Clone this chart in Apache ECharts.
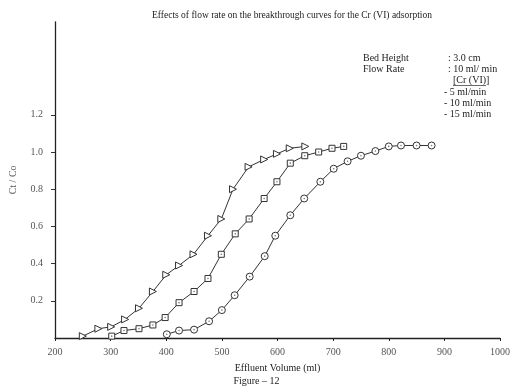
<!DOCTYPE html>
<html>
<head>
<meta charset="utf-8">
<script src="https://cdn.jsdelivr.net/npm/echarts@6/dist/echarts.min.js"></script>
<style>html,body{margin:0;padding:0;background:#fff}#c{width:513px;height:388px}</style>
</head>
<body>
<div id="c"></div>
<script>
// Data (Effluent Volume in ml, Ct/Co)
var vol15 = [250, 278, 301, 326, 351, 376, 400, 423, 449, 475, 499, 520, 548, 576, 599, 622, 650];
var ct15  = [0.01, 0.05, 0.06, 0.10, 0.16, 0.25, 0.34, 0.39, 0.45, 0.55, 0.64, 0.80, 0.92, 0.96, 0.99, 1.02, 1.03];
var vol10 = [302, 324, 351, 376, 398, 423, 450, 475, 499, 524, 549, 576, 599, 623, 649, 674, 698, 719];
var ct10  = [0.01, 0.04, 0.05, 0.07, 0.11, 0.19, 0.25, 0.32, 0.45, 0.56, 0.64, 0.75, 0.84, 0.94, 0.98, 1.00, 1.02, 1.03];
var vol5  = [401, 423, 450, 477, 500, 523, 550, 577, 596, 623, 648, 677, 701, 726, 750, 776, 800, 822, 850, 877];
var ct5   = [0.02, 0.04, 0.045, 0.09, 0.15, 0.23, 0.33, 0.44, 0.55, 0.66, 0.75, 0.84, 0.91, 0.95, 0.98, 1.005, 1.03, 1.035, 1.035, 1.035];
var yTicks = [0.2, 0.4, 0.6, 0.8, 1.0, 1.2];
var titleText = 'Effects of flow rate on the breakthrough curves for the Cr (VI) adsorption';
var infoLabels = ['Bed Height', 'Flow Rate'];
var infoValues = [': 3.0 cm', ': 10 ml/ min'];
var legendHeader = '[Cr (VI)]';
var legendItems = ['- 5 ml/min', '- 10 ml/min', '- 15 ml/min'];

function pairs(xs, ys) { return xs.map(function (x, i) { return [x, ys[i]]; }); }

var FONT = '"Liberation Serif", "DejaVu Serif", serif';
var INK = '#333';

function lineSeries(name, xs, ys, symbol, rot, size) {
  return {
    name: name, type: 'line', data: pairs(xs, ys), smooth: false,
    symbol: symbol, symbolSize: size, symbolRotate: rot || 0, showAllSymbol: true,
    lineStyle: { color: INK, width: 1 },
    itemStyle: { color: '#fff', borderColor: INK, borderWidth: 1 },
    emphasis: { disabled: true }, animation: false, z: 2
  };
}
function dotSeries(xs, ys) {
  return {
    type: 'scatter', data: pairs(xs, ys), symbol: 'circle', symbolSize: 1.6,
    itemStyle: { color: '#555' }, silent: true, animation: false, z: 3
  };
}

var chart = echarts.init(document.getElementById('c'));
var gtext = [];
gtext.push({ type: 'text', left: 152, top: 10, style: { text: titleText, font: '9.5px ' + FONT, fill: '#222' } });
infoLabels.forEach(function (t, i) {
  gtext.push({ type: 'text', left: 363, top: 53 + i * 11.5, style: { text: t, font: '10px ' + FONT, fill: '#222' } });
});
infoValues.forEach(function (t, i) {
  gtext.push({ type: 'text', left: 448, top: 53 + i * 11.5, style: { text: t, font: '10px ' + FONT, fill: '#222' } });
});
gtext.push({ type: 'text', left: 453, top: 75.5, style: { text: legendHeader, font: '10px ' + FONT, fill: '#222' } });
gtext.push({ type: 'line', shape: { x1: 453, y1: 85.5, x2: 486, y2: 85.5 }, style: { stroke: '#444', lineWidth: 0.8 } });
legendItems.forEach(function (t, i) {
  gtext.push({ type: 'text', left: 444, top: 87 + i * 11, style: { text: t, font: '10px ' + FONT, fill: '#222' } });
});
gtext.push({ type: 'text', left: 'center', top: 376, style: { text: 'Figure \u2013 12', font: '10px ' + FONT, fill: '#222', x: -2 } });

chart.setOption({
  animation: false,
  backgroundColor: '#fff',
  grid: { left: 52, right: 10, top: 21.8, bottom: 50, containLabel: false },
  xAxis: {
    type: 'value', min: 200, max: 1000, interval: 100,
    name: 'Effluent Volume (ml)', nameLocation: 'middle', nameGap: 25,
    nameTextStyle: { fontFamily: FONT, fontSize: 10, color: '#222' },
    axisLine: { lineStyle: { color: '#222', width: 1.3 } },
    axisTick: { show: true, length: 3, lineStyle: { color: '#222' } },
    axisLabel: { fontFamily: FONT, fontSize: 10, color: '#555', margin: 9,
      formatter: function (v) { return String(v); } },
    splitLine: { show: false }
  },
  yAxis: {
    type: 'value', min: 0, max: 1.7, interval: 0.1,
    name: 'Ct / Co', nameLocation: 'middle', nameGap: 37, nameRotate: 90,
    nameTextStyle: { fontFamily: FONT, fontSize: 10, color: '#555' },
    axisLine: { show: true, lineStyle: { color: '#222', width: 1.3 } },
    axisTick: { show: true, length: 4, customValues: yTicks, lineStyle: { color: '#333' } },
    axisLabel: { fontFamily: FONT, fontSize: 10, color: '#555', margin: 12, customValues: yTicks,
      formatter: function (v) { return v.toFixed(1); } },
    splitLine: { show: false }
  },
  series: [
    lineSeries('15 ml/min', vol15, ct15, 'triangle', -90, 7),
    lineSeries('10 ml/min', vol10, ct10, 'rect', 0, 6),
    lineSeries('5 ml/min', vol5, ct5, 'circle', 0, 7),
    dotSeries(vol10, ct10),
    dotSeries(vol5, ct5)
  ],
  graphic: gtext
});
</script>
</body>
</html>
